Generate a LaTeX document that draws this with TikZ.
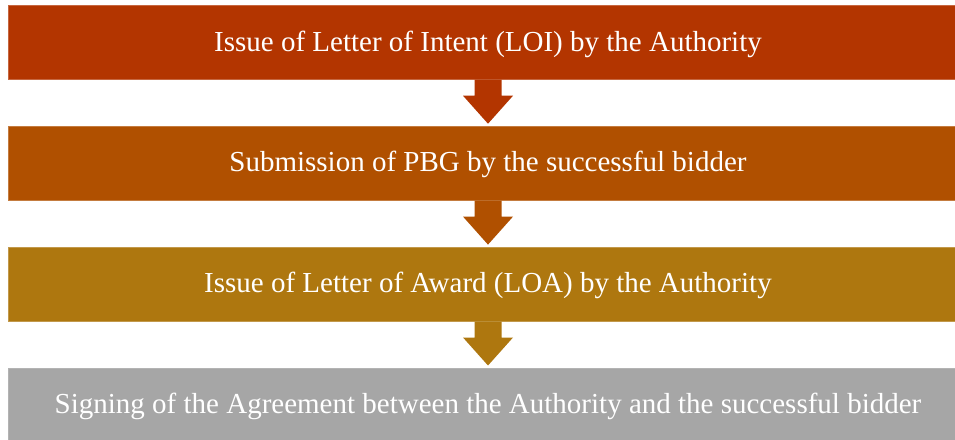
\documentclass[tikz,border=0pt]{standalone}
\usepackage{fontspec}
\setmainfont{Liberation Serif}
\usepackage{tikz}
\usetikzlibrary{positioning}
\usepackage{xcolor}

\definecolor{rust}{RGB}{179,53,0}
\definecolor{amber}{RGB}{176,80,0}
\definecolor{ochre}{RGB}{174,119,15}
\definecolor{ash}{RGB}{166,166,166}

\tikzset{
    stage/.style={minimum width=960pt, minimum height=74pt, inner sep=0pt,
        text height=22pt, text depth=5pt,
        text=white, font=\fontsize{29}{34}\selectfont},
}

\begin{document}
\begin{tikzpicture}[x=1pt, y=-1pt]
            \useasboundingbox[fill=white] (0,0) rectangle (955,439);

            % the four stages, top to bottom
            \node[stage, fill=rust, draw=rust!75!white] (loi) at (488,42.5) {Issue of Letter of Intent (LOI) by the Authority};
            \node[stage, fill=amber, draw=amber!75!white, below=46.5pt of loi] (pbg) {Submission of PBG by the successful bidder};
            \node[stage, fill=ochre, draw=ochre!75!white, below=46.5pt of pbg] (loa) {Issue of Letter of Award (LOA) by the Authority};
            \node[stage, fill=ash, draw=ash!85!white, below=46.5pt of loa] (sign) {Signing of the Agreement between the Authority and the successful bidder};

            % block arrows between the stages
            \foreach \a/\b/\c in {loi/pbg/rust, pbg/loa/amber, loa/sign/ochre}
                \fill[\c] (\a.south) ++(-13.5,0) -- ++(0,16) -- ++(-11.5,0)
                    -- ++(25,28) -- ++(25,-28) -- ++(-11.5,0) -- ++(0,-16) -- cycle;
        \end{tikzpicture}
\end{document}
